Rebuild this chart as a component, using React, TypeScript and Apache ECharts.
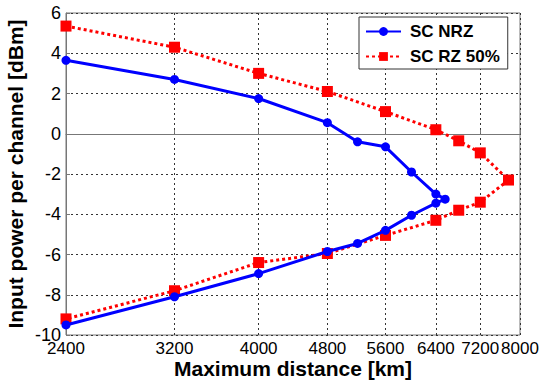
import React, { useEffect, useRef } from "react";
import * as echarts from "echarts";

// SC NRZ (blue): distance [km], input power [dBm], in drawing order
const nrzDistance = [2400, 3200, 4000, 4800, 5200, 5600, 6000, 6400, 6560, 6400, 6000, 5600, 5200, 4800, 4000, 3200, 2400];
const nrzPower = [3.65, 2.7, 1.75, 0.55, -0.4, -0.65, -1.9, -3.0, -3.25, -3.45, -4.05, -4.8, -5.45, -5.85, -6.95, -8.1, -9.5];

// SC RZ 50% (red)
const rzDistance = [2400, 3200, 4000, 4800, 5600, 6400, 6800, 7200, 7760, 7200, 6800, 6400, 5600, 4800, 4000, 3200, 2400];
const rzPower = [5.35, 4.3, 3.0, 2.1, 1.1, 0.2, -0.35, -0.95, -2.3, -3.4, -3.8, -4.3, -5.05, -5.95, -6.4, -7.8, -9.2];

const xTicks = [2400, 3200, 4000, 4800, 5600, 6400, 7200, 8000];
const yMin = -10;
const yMax = 6;
const yStep = 2;

const FONT = "'Liberation Sans', Arial, sans-serif";

export default function App() {
  const ref = useRef<HTMLDivElement>(null);

  useEffect(() => {
    if (!ref.current) return;
    const chart = echarts.init(ref.current, null, { renderer: "svg" });
    const zip = (xs: number[], ys: number[]) => xs.map((x, i) => [x, ys[i]]);
    const gridLine = { show: true, lineStyle: { color: "#333", width: 1, type: [2, 3] as any } };
    chart.setOption({
      animation: false,
      backgroundColor: "#fff",
      textStyle: { fontFamily: FONT },
      grid: {
        left: 66,
        right: 20,
        top: 13,
        bottom: 47,
        show: true,
        borderColor: "#777",
        borderWidth: 1,
        backgroundColor: "#fff",
        containLabel: false,
        outerBoundsMode: "none",
      },
      legend: {
        left: 359,
        top: 17,
        orient: "vertical",
        padding: [6, 8, 4, 6],
        itemGap: 8,
        itemWidth: 35,
        itemHeight: 11,
        borderColor: "#333",
        borderWidth: 1,
        backgroundColor: "#fff",
        textStyle: { fontFamily: FONT, fontWeight: "bold", fontSize: 17, color: "#000", padding: [0, 0, 0, 4] },
        data: ["SC NRZ", "SC RZ 50%"],
      },
      xAxis: {
        type: "log",
        min: 2400,
        max: 8000,
        name: "Maximum distance [km]",
        nameLocation: "middle",
        nameGap: 23,
        nameMoveOverlap: false,
        nameTextStyle: { fontFamily: FONT, fontWeight: "bold", fontSize: 21, color: "#000" },
        axisLine: { show: true, lineStyle: { color: "#777" } },
        axisTick: { show: true, inside: true, length: 4, customValues: xTicks, lineStyle: { color: "#777" } },
        axisLabel: {
          customValues: xTicks,
          margin: 5,
          fontFamily: FONT,
          fontSize: 17,
          color: "#000",
          hideOverlap: false,
          formatter: (v: number) => String(Math.round(v)),
        },
        splitLine: gridLine,
        minorTick: { show: false },
        minorSplitLine: { show: false },
      },
      yAxis: {
        type: "value",
        min: yMin,
        max: yMax,
        interval: yStep,
        name: "Input power per channel [dBm]",
        nameLocation: "middle",
        nameGap: 40,
        nameMoveOverlap: false,
        nameTextStyle: { fontFamily: FONT, fontWeight: "bold", fontSize: 21, color: "#000" },
        axisLine: { show: true, lineStyle: { color: "#777" } },
        axisTick: { show: true, inside: true, length: 4, lineStyle: { color: "#777" } },
        axisLabel: { margin: 5, fontFamily: FONT, fontSize: 18, color: "#000" },
        splitLine: gridLine,
      },
      series: [
        {
          name: "SC NRZ",
          type: "line",
          data: zip(nrzDistance, nrzPower),
          symbol: "circle",
          symbolSize: 9,
          color: "#0000ff",
          lineStyle: { color: "#0000ff", width: 3 },
          itemStyle: { color: "#0000ff" },
          z: 3,
        },
        {
          name: "SC RZ 50%",
          type: "line",
          data: zip(rzDistance, rzPower),
          symbol: "rect",
          symbolSize: 11,
          color: "#ff0000",
          lineStyle: { color: "#ff0000", width: 3, type: [3, 3] },
          itemStyle: { color: "#ff0000" },
          z: 2,
        },
      ],
    });
    return () => chart.dispose();
  }, []);

  return <div ref={ref} style={{ width: 540, height: 382, position: "absolute", left: 0, top: 0 }} />;
}
